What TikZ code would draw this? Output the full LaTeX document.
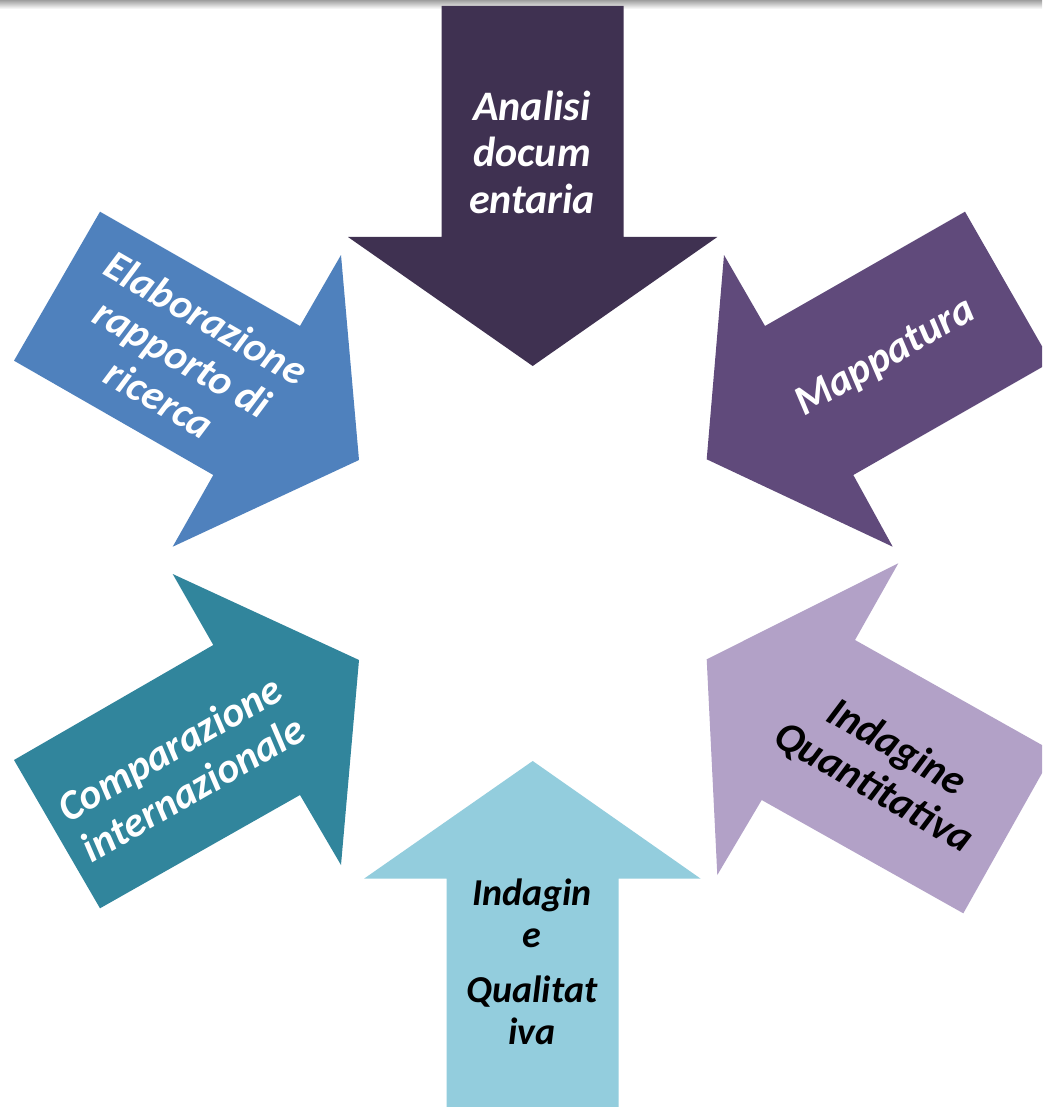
\documentclass[tikz,border=0pt]{standalone}
\usepackage{fontspec}
\setmainfont{Carlito}
\newfontfamily\carl{Carlito}
\definecolor{cTop}{HTML}{3F3151}
\definecolor{cUR}{HTML}{604A7B}
\definecolor{cLR}{HTML}{B2A1C7}
\definecolor{cBot}{HTML}{93CDDD}
\definecolor{cLL}{HTML}{31859C}
\definecolor{cUL}{HTML}{4F81BD}
\tikzset{
  arrowshape/.style={draw=none},
  lbl/.style={inner sep=0pt, align=center, font=\carl\bfseries\itshape\fontsize{42}{46.5}\selectfont},
  lblw/.style={lbl, text=white},
  lblk/.style={lbl, text=black},
}
\begin{document}
\begin{tikzpicture}[x=1pt,y=-1pt]
\useasboundingbox (0,0) rectangle (1042,1107);
\fill[white] (0,0) rectangle (1042,1107);
\clip (0,0) rectangle (1042,1107);
\shade[top color=black!38, bottom color=white] (0,0) rectangle (1042,9);
% top arrow (pointing down)
\fill[arrowshape, cTop] (441.7,6) -- (623.7,6) -- (623.7,237) -- (717.3,237) -- (532.7,366) -- (348,237) -- (441.7,237) -- cycle;
% upper right arrow
\fill[arrowshape, cUR] (706.7,459.3) -- (724,255) -- (765,326) -- (965,211.7) -- (1051,362) -- (853.3,475) -- (892.7,546.7) -- cycle;
% lower right arrow
\fill[arrowshape, cLR] (706.7,659.3) -- (898.3,563.3) -- (855,640) -- (1054,751.8) -- (963.3,913.3) -- (761.7,800) -- (717.3,875) -- cycle;
% bottom arrow (pointing up)
\fill[arrowshape, cBot] (532.7,761) -- (700.7,878.7) -- (618.7,878.7) -- (618.7,1130) -- (446.7,1130) -- (446.7,878.7) -- (364,878.7) -- cycle;
% lower left arrow
\fill[arrowshape, cLL] (359,660) -- (341,865) -- (300,795) -- (100,908.3) -- (14,760) -- (213.3,645) -- (172.7,574) -- cycle;
% upper left arrow
\fill[arrowshape, cUL] (359,460) -- (341,255) -- (300,326) -- (100,211.7) -- (14,360.7) -- (213.3,475) -- (172.7,546.7) -- cycle;
% labels
\node[lblw] (tTop) at (532,152) {Analisi\\docum\\entaria};
\node[lblw, rotate=30] (tUR) at (886,358) {Mappatura};
\node[lblk, rotate=-30] (tLR) at (885,768) {Indagine\\Quantitativa};
\node[lblk, font=\carl\bfseries\itshape\fontsize{38}{41.5}\selectfont] (tBot) at (532,962) {Indagin\\e\\[14pt]Qualitat\\iva};
\node[lblw, rotate=30] (tLL) at (181,768) {Comparazione\\internazionale};
\node[lblw, rotate=-30] (tUL) at (183,358) {Elaborazione\\rapporto di\\ricerca};
\end{tikzpicture}
\end{document}
